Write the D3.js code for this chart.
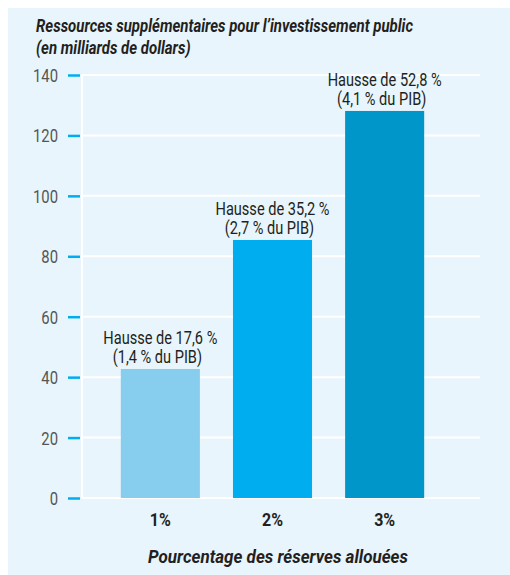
<!DOCTYPE html>
<html>
<head>
<meta charset="utf-8">
<script src="https://cdn.jsdelivr.net/npm/d3@7"></script>
<style>
  html, body { margin: 0; padding: 0; background: #fff; }
  svg { display: block; }
  text { font-family: Roboto, "Noto Sans", sans-serif; }
</style>
</head>
<body>
<svg id="chart" width="510" height="575"></svg>
<script>
// Reserve allocation scenarios and the extra public investment they fund
const categories = ["1%", "2%", "3%"];
const values = [42.7, 85.4, 128.1];
const labelLine1 = ["Hausse de 17,6 %", "Hausse de 35,2 %", "Hausse de 52,8 %"];
const labelLine2 = ["(1,4 % du PIB)", "(2,7 % du PIB)", "(4,1 % du PIB)"];
const barColors = ["#87CEEE", "#00AEEF", "#0096CA"];
const yTicks = [0, 20, 40, 60, 80, 100, 120, 140];
const titleLines = ["Ressources supplémentaires pour l’investissement public", "(en milliards de dollars)"];
const xTitle = "Pourcentage des réserves allouées";

// Narrow a group of texts horizontally so a reference string spans the given width
function condense(sel, specimenWidth, specimenNode) {
  const natural = specimenNode.getComputedTextLength();
  const k = Math.min(1, specimenWidth / natural);
  sel.each(function () {
    const w = this.getComputedTextLength();
    d3.select(this).attr("textLength", w * k).attr("lengthAdjust", "spacingAndGlyphs");
  });
}

const svg = d3.select("#chart");

// panel background
svg.append("rect")
  .attr("x", 8).attr("y", 8).attr("width", 502).attr("height", 567)
  .attr("fill", "#E8F5FC");

const plot = { left: 82, right: 480, top: 75, bottom: 498 };

const y = d3.scaleLinear().domain([0, 140]).range([plot.bottom, plot.top]);
const x = d3.scaleBand().domain(categories).range([104, 441])
  .paddingInner(0.295).paddingOuter(0.15);

// horizontal grid lines
svg.append("g").selectAll("line").data(yTicks).join("line")
  .attr("x1", plot.left).attr("x2", plot.right)
  .attr("y1", d => y(d)).attr("y2", d => y(d))
  .attr("stroke", "#fff").attr("stroke-width", 2);

// vertical axis line
svg.append("line")
  .attr("x1", plot.left).attr("x2", plot.left)
  .attr("y1", y(140)).attr("y2", y(0))
  .attr("stroke", "#fff").attr("stroke-width", 2);

// y axis: blue ticks and grey labels
const yAxis = d3.axisLeft(y).tickValues(yTicks).tickSize(12).tickPadding(10).tickFormat(d3.format("d"));
const gy = svg.append("g").attr("transform", `translate(${plot.left - 2},0)`).call(yAxis);
gy.select(".domain").remove();
gy.selectAll(".tick line").attr("stroke", "#00AEEF").attr("stroke-width", 2.5);
const yLabels = gy.selectAll(".tick text")
  .attr("fill", "#555").attr("font-size", 18)
  .style("font-family", "Roboto, sans-serif")
  .attr("dy", "0.36em");
condense(yLabels, 25, yLabels.filter(d => d === 140).node());

// bars
svg.append("g").selectAll("rect").data(values).join("rect")
  .attr("x", (d, i) => x(categories[i]))
  .attr("width", x.bandwidth())
  .attr("y", d => y(d))
  .attr("height", d => y(0) - y(d))
  .attr("fill", (d, i) => barColors[i]);

// value annotations above each bar
const ann = svg.append("g").attr("fill", "#231F20").attr("font-size", 18).attr("text-anchor", "middle");
values.forEach((v, i) => {
  const cx = x(categories[i]) + x.bandwidth() / 2;
  ann.append("text").attr("class", "l1").attr("x", cx).attr("y", y(v) - 25).text(labelLine1[i]);
  ann.append("text").attr("class", "l2").attr("x", cx - 3).attr("y", y(v) - 6).text(labelLine2[i]);
});
const annTexts = ann.selectAll("text");
condense(annTexts, 114, ann.select(".l1").node());

// x axis category labels
const xAxis = d3.axisBottom(x).tickSize(0).tickPadding(0);
const gx = svg.append("g").attr("transform", `translate(0,${plot.bottom})`).call(xAxis);
gx.select(".domain").remove();
const xLabels = gx.selectAll(".tick text")
  .attr("y", 28).attr("dy", 0)
  .attr("fill", "#231F20").attr("font-size", 18).attr("font-weight", "bold")
  .style("font-family", "Roboto, sans-serif");
condense(xLabels, 21, xLabels.node());

// x axis title
const xt = svg.append("text")
  .attr("x", 278).attr("y", 563)
  .attr("text-anchor", "middle")
  .attr("font-size", 19).attr("font-style", "italic").attr("font-weight", "bold")
  .attr("fill", "#231F20")
  .text(xTitle);
condense(xt, 260, xt.node());

// chart title
const title = svg.append("g")
  .attr("font-size", 18.5).attr("font-style", "italic").attr("font-weight", "bold")
  .attr("fill", "#231F20");
titleLines.forEach((t, i) => {
  title.append("text").attr("x", 36).attr("y", 32 + i * 22).text(t);
});
const titleTexts = title.selectAll("text");
condense(titleTexts, 377, titleTexts.node());
</script>
</body>
</html>
